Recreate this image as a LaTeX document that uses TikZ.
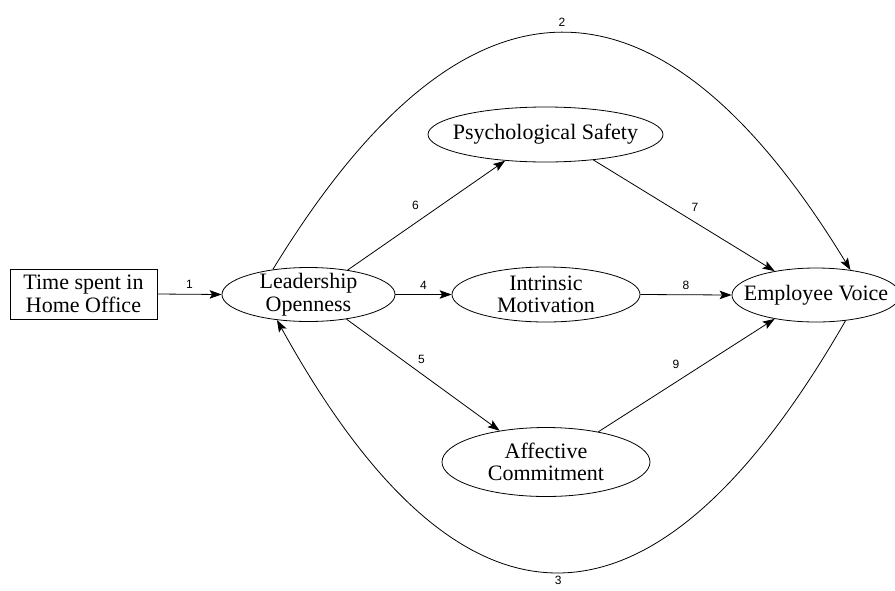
\documentclass[tikz,border=0pt]{standalone}
\usepackage{fontspec}
\setmainfont{Liberation Serif}
\newfontfamily\numfont{Liberation Sans}
\usetikzlibrary{shapes.geometric,arrows.meta}
\begin{document}
\begin{tikzpicture}[x=1pt,y=-1pt,line width=0.8pt,
  txt/.style={font=\fontsize{22}{22.5}\selectfont, align=center, inner sep=0pt},
  latent/.style 2 args={ellipse, draw, inner sep=0pt, minimum width=#1, minimum height=#2},
  observed/.style={rectangle, draw, inner sep=0pt, minimum width=147pt, minimum height=50pt, txt},
  conn/.style={-{Stealth[length=12pt,width=8.5pt,inset=2.5pt]}},
  lbl/.style={font=\numfont\fontsize{12}{12}\selectfont, inner sep=0pt}]

\useasboundingbox (0,0) rectangle (895,590);

% constructs
\node[observed] (time) at (83.5,294) {Time spent in\\Home Office};
\node[latent={173pt}{54pt}, label={[txt]center:{Leadership\\Openness}}] (lo) at (308.5,294.5) {};
\node[latent={235pt}{55pt}, label={[txt]center:{Psychological Safety}}] (ps) at (545.5,134.5) {};
\node[latent={188pt}{55pt}, label={[txt]center:{Intrinsic\\Motivation}}] (im) at (546,294.5) {};
\node[latent={208pt}{69pt}, label={[txt]center:{Affective\\Commitment}}] (ac) at (546,462) {};
\node[latent={168pt}{54pt}, label={[txt]center:{Employee Voice}}] (ev) at (816,295) {};

% paths
\draw[conn] (time.east) -- node[lbl, above=5pt] {1} (lo.west);
\draw[conn] (lo.east) -- node[lbl, above=5pt] {4} (im.west);
\draw[conn] (im.east) -- node[lbl, above=5pt] {8} (ev.west);
\draw[conn] (lo.32) -- node[lbl, pos=.43, above=13pt] {6} (ps.213);
\draw[conn] (lo.327) -- node[lbl, pos=.49, above=10pt] {5} (ac.146);
\draw[conn] (ps.332) -- node[lbl, pos=.56, above=10pt] {7} (ev.150);
\draw[conn] (ac.30) -- node[lbl, pos=.44, above=13pt] {9} (ev.210);
\draw[conn] (lo.145) .. controls +(193,-316) and +(-192,-315) ..
  node[lbl, pos=.5, above=6pt] {2} (ev.36);
\draw[conn] (ev.319) .. controls +(-193,336) and +(185,335) ..
  node[lbl, pos=.5, below=4pt] {3} (lo.219);
\end{tikzpicture}
\end{document}
